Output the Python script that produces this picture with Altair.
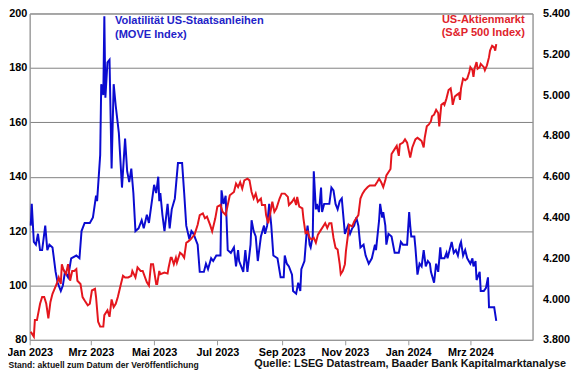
import altair as alt
import pandas as pd

# ---------------- data ----------------
move_dates = [
    "2023-01-02", "2023-01-03", "2023-01-05", "2023-01-07", "2023-01-09", "2023-01-11", "2023-01-13",
    "2023-01-16", "2023-01-18", "2023-01-20", "2023-01-23", "2023-01-26", "2023-01-28", "2023-01-31",
    "2023-02-02", "2023-02-04", "2023-02-07", "2023-02-10", "2023-02-15", "2023-02-18", "2023-02-20",
    "2023-02-23", "2023-02-28", "2023-03-03", "2023-03-06", "2023-03-07", "2023-03-10", "2023-03-11",
    "2023-03-13", "2023-03-14", "2023-03-15", "2023-03-17", "2023-03-19", "2023-03-21", "2023-03-23",
    "2023-03-25", "2023-03-28", "2023-03-31", "2023-04-03", "2023-04-05", "2023-04-07", "2023-04-09",
    "2023-04-11", "2023-04-13", "2023-04-16", "2023-04-19", "2023-04-21", "2023-04-24", "2023-04-26",
    "2023-05-01", "2023-05-03", "2023-05-05", "2023-05-06", "2023-05-07", "2023-05-09", "2023-05-11",
    "2023-05-14", "2023-05-16", "2023-05-18", "2023-05-21", "2023-05-24", "2023-05-28", "2023-05-30",
    "2023-06-01", "2023-06-04", "2023-06-06", "2023-06-08", "2023-06-12", "2023-06-14", "2023-06-18",
    "2023-06-20", "2023-06-22", "2023-06-25", "2023-06-27", "2023-06-30", "2023-07-04", "2023-07-05",
    "2023-07-07", "2023-07-09", "2023-07-11", "2023-07-14", "2023-07-17", "2023-07-19", "2023-07-21",
    "2023-07-22", "2023-07-26", "2023-07-28", "2023-07-30", "2023-08-02", "2023-08-03", "2023-08-05",
    "2023-08-07", "2023-08-09", "2023-08-12", "2023-08-15", "2023-08-16", "2023-08-18", "2023-08-20",
    "2023-08-22", "2023-08-24", "2023-08-28", "2023-08-31", "2023-09-03", "2023-09-04", "2023-09-06",
    "2023-09-08", "2023-09-11", "2023-09-12", "2023-09-15", "2023-09-17", "2023-09-19", "2023-09-20",
    "2023-09-23", "2023-09-25", "2023-09-26", "2023-09-28", "2023-09-29", "2023-10-01", "2023-10-02",
    "2023-10-04", "2023-10-05", "2023-10-07", "2023-10-09", "2023-10-10", "2023-10-12", "2023-10-15",
    "2023-10-17", "2023-10-19", "2023-10-21", "2023-10-23", "2023-10-25", "2023-10-27", "2023-10-29",
    "2023-11-01", "2023-11-02", "2023-11-04", "2023-11-06", "2023-11-08", "2023-11-10", "2023-11-12",
    "2023-11-14", "2023-11-16", "2023-11-19", "2023-11-21", "2023-11-24", "2023-11-27", "2023-11-30",
    "2023-12-01", "2023-12-04", "2023-12-05", "2023-12-07", "2023-12-08", "2023-12-10", "2023-12-11",
    "2023-12-13", "2023-12-16", "2023-12-19", "2023-12-23", "2023-12-25", "2023-12-27", "2023-12-31",
    "2024-01-02", "2024-01-03", "2024-01-04", "2024-01-07", "2024-01-08", "2024-01-10", "2024-01-12",
    "2024-01-14", "2024-01-16", "2024-01-18", "2024-01-20", "2024-01-22", "2024-01-23", "2024-01-26",
    "2024-01-28", "2024-01-30", "2024-02-01", "2024-02-02", "2024-02-05", "2024-02-07", "2024-02-08",
    "2024-02-10", "2024-02-12", "2024-02-14", "2024-02-16", "2024-02-18", "2024-02-20", "2024-02-21",
    "2024-02-23", "2024-02-25", "2024-02-27", "2024-03-01", "2024-03-03", "2024-03-04", "2024-03-06",
    "2024-03-07", "2024-03-10", "2024-03-11", "2024-03-14", "2024-03-16", "2024-03-18", "2024-03-19",
    "2024-03-22", "2024-03-24", "2024-03-26",
]
move_values = [
    122, 130, 116, 115, 119, 113, 113,
    122, 113, 115, 114, 105, 101, 98,
    100, 105, 103, 110, 111, 110, 120,
    123, 123, 125, 133, 131, 148, 174,
    170, 199, 169, 182, 183, 143, 174,
    166, 156, 136, 154, 142, 138, 143,
    134, 120, 121, 124, 121, 126, 123,
    137, 134, 140, 131, 134, 126, 120,
    130, 121, 128, 132, 145, 145, 134,
    122, 117, 120, 119, 115, 105, 105,
    108, 106, 110, 109, 111, 111, 135,
    130, 133, 113, 112, 114, 107, 113,
    109, 105, 113, 105, 115, 124, 120,
    118, 109, 118, 122, 119, 122, 130,
    122, 111, 110, 103, 103, 111, 108,
    107, 104, 98, 97, 101, 98, 106,
    109, 119, 122, 115, 114, 118, 142,
    128, 130, 127, 136, 127, 130, 130,
    130, 136, 135, 130, 128, 131, 132,
    119, 120, 122, 119, 121, 122, 125,
    122, 114, 115, 111, 108, 110, 115,
    113, 124, 130, 125, 127, 122, 115,
    119, 118, 112, 112, 116, 115, 115,
    127, 122, 118, 118, 114, 104, 108,
    107, 113, 107, 109, 108, 105, 101,
    108, 105, 114, 110, 110, 112, 110,
    113, 116, 112, 113, 111, 115, 116,
    111, 113, 110, 108, 110, 107, 109,
    102, 105, 98, 98, 99, 103, 92,
    92, 92, 87,
]

spx_dates = [
    "2023-01-02", "2023-01-03", "2023-01-05", "2023-01-06", "2023-01-08", "2023-01-11", "2023-01-13",
    "2023-01-15", "2023-01-17", "2023-01-19", "2023-01-21", "2023-01-23", "2023-01-25", "2023-01-27",
    "2023-01-29", "2023-01-31", "2023-02-01", "2023-02-03", "2023-02-05", "2023-02-07", "2023-02-09",
    "2023-02-11", "2023-02-13", "2023-02-15", "2023-02-16", "2023-02-19", "2023-02-21", "2023-02-23",
    "2023-02-26", "2023-02-28", "2023-03-02", "2023-03-05", "2023-03-06", "2023-03-08", "2023-03-10",
    "2023-03-13", "2023-03-14", "2023-03-17", "2023-03-19", "2023-03-21", "2023-03-23", "2023-03-25",
    "2023-03-27", "2023-03-30", "2023-04-01", "2023-04-03", "2023-04-06", "2023-04-09", "2023-04-10",
    "2023-04-13", "2023-04-15", "2023-04-18", "2023-04-20", "2023-04-24", "2023-04-26", "2023-04-28",
    "2023-04-30", "2023-05-03", "2023-05-04", "2023-05-06", "2023-05-07", "2023-05-11", "2023-05-14",
    "2023-05-15", "2023-05-17", "2023-05-18", "2023-05-20", "2023-05-22", "2023-05-23", "2023-05-26",
    "2023-05-28", "2023-05-30", "2023-06-01", "2023-06-03", "2023-06-05", "2023-06-09", "2023-06-12",
    "2023-06-14", "2023-06-17", "2023-06-19", "2023-06-21", "2023-06-24", "2023-06-26", "2023-06-29",
    "2023-07-01", "2023-07-04", "2023-07-06", "2023-07-09", "2023-07-11", "2023-07-13", "2023-07-17",
    "2023-07-19", "2023-07-21", "2023-07-23", "2023-07-25", "2023-07-27", "2023-07-30", "2023-08-01",
    "2023-08-03", "2023-08-05", "2023-08-07", "2023-08-09", "2023-08-12", "2023-08-13", "2023-08-16",
    "2023-08-17", "2023-08-19", "2023-08-21", "2023-08-23", "2023-08-25", "2023-08-27", "2023-08-30",
    "2023-09-01", "2023-09-04", "2023-09-07", "2023-09-08", "2023-09-11", "2023-09-13", "2023-09-15",
    "2023-09-16", "2023-09-18", "2023-09-21", "2023-09-22", "2023-09-24", "2023-09-26", "2023-09-28",
    "2023-09-30", "2023-10-02", "2023-10-04", "2023-10-06", "2023-10-08", "2023-10-11", "2023-10-13",
    "2023-10-15", "2023-10-17", "2023-10-19", "2023-10-21", "2023-10-23", "2023-10-25", "2023-10-27",
    "2023-10-28", "2023-10-30", "2023-11-01", "2023-11-02", "2023-11-04", "2023-11-05", "2023-11-08",
    "2023-11-10", "2023-11-12", "2023-11-14", "2023-11-16", "2023-11-18", "2023-11-20", "2023-11-23",
    "2023-11-25", "2023-11-27", "2023-11-30", "2023-12-02", "2023-12-04", "2023-12-06", "2023-12-08",
    "2023-12-10", "2023-12-11", "2023-12-13", "2023-12-15", "2023-12-16", "2023-12-19", "2023-12-21",
    "2023-12-23", "2023-12-24", "2023-12-27", "2023-12-29", "2023-12-31", "2024-01-02", "2024-01-03",
    "2024-01-05", "2024-01-08", "2024-01-10", "2024-01-12", "2024-01-14", "2024-01-16", "2024-01-17",
    "2024-01-19", "2024-01-21", "2024-01-23", "2024-01-24", "2024-01-26", "2024-01-28", "2024-01-30",
    "2024-01-31", "2024-02-02", "2024-02-04", "2024-02-05", "2024-02-07", "2024-02-09", "2024-02-11",
    "2024-02-12", "2024-02-13", "2024-02-15", "2024-02-17", "2024-02-19", "2024-02-20", "2024-02-21",
    "2024-02-23", "2024-02-25", "2024-02-27", "2024-02-29", "2024-03-01", "2024-03-03", "2024-03-04",
    "2024-03-05", "2024-03-07", "2024-03-08", "2024-03-10", "2024-03-11", "2024-03-14", "2024-03-15",
    "2024-03-17", "2024-03-19", "2024-03-20", "2024-03-22", "2024-03-24", "2024-03-25", "2024-03-26",
]
spx_values = [
    3840, 3832, 3816, 3897, 3897, 3977, 4010,
    4010, 3977, 3905, 3986, 4026, 4050, 4074,
    4106, 4074, 4171, 4138, 4122, 4171, 4090,
    4138, 4138, 4147, 4090, 4074, 4010, 3993,
    3969, 3977, 4042, 4050, 4010, 3889, 3865,
    3865, 3921, 3945, 3913, 3998, 3961, 3977,
    4010, 4074, 4114, 4106, 4106, 4114, 4138,
    4106, 4155, 4138, 4138, 4082, 4066, 4171,
    4171, 4074, 4074, 4138, 4122, 4130, 4125,
    4155, 4203, 4203, 4171, 4203, 4179, 4227,
    4219, 4203, 4276, 4283, 4292, 4316, 4364,
    4412, 4420, 4396, 4404, 4364, 4332, 4396,
    4453, 4461, 4428, 4412, 4461, 4509, 4525,
    4566, 4549, 4573, 4541, 4582, 4590, 4582,
    4525, 4493, 4517, 4477, 4493, 4461, 4461,
    4412, 4372, 4420, 4477, 4428, 4445, 4493,
    4517, 4517, 4501, 4461, 4477, 4493, 4461,
    4501, 4453, 4445, 4396, 4324, 4332, 4300,
    4292, 4300, 4276, 4316, 4332, 4356, 4372,
    4348, 4372, 4372, 4300, 4251, 4243, 4171,
    4122, 4138, 4171, 4235, 4316, 4364, 4356,
    4380, 4396, 4412, 4493, 4517, 4533, 4549,
    4557, 4557, 4557, 4573, 4590, 4573, 4549,
    4582, 4606, 4622, 4638, 4711, 4735, 4751,
    4702, 4759, 4767, 4783, 4767, 4718, 4694,
    4743, 4783, 4791, 4783, 4775, 4743, 4791,
    4847, 4856, 4872, 4896, 4904, 4928, 4912,
    4847, 4952, 4960, 4952, 4984, 5025, 5033,
    5001, 4952, 4993, 5001, 5009, 4977, 5033,
    5081, 5073, 5081, 5113, 5137, 5122, 5089,
    5129, 5162, 5129, 5137, 5153, 5137, 5122,
    5146, 5186, 5218, 5242, 5234, 5218, 5250,
]

move_ticks = [80, 100, 120, 140, 160, 180, 200]
spx_ticks = [3800, 4000, 4200, 4400, 4600, 4800, 5000, 5200, 5400]
x_tick_months = [(2023, 1), (2023, 3), (2023, 5), (2023, 7), (2023, 9), (2023, 11), (2024, 1), (2024, 3)]
month_names = ["Jan", "Feb", "Mrz", "Apr", "Mai", "Jun", "Jul", "Aug", "Sep", "Okt", "Nov", "Dez"]

move_label = ["Volatilität US-Staatsanleihen", "(MOVE Index)"]
spx_label = ["US-Aktienmarkt", "(S&P 500 Index)"]
note_left = "Stand: aktuell zum Datum der Veröffentlichung"
note_right = "Quelle: LSEG Datastream, Baader Bank Kapitalmarktanalyse"

# ---------------- chart ----------------
FONT = "Liberation Sans"
BLUE = "#0B0BD0"
RED = "#E4161D"
BLUE_TXT = "#2222C8"
RED_TXT = "#E0232B"
GRID = "#808080"
AXIS = "#9A9A9A"

move_df = pd.DataFrame({"date": move_dates, "move": move_values})
spx_df = pd.DataFrame({"date": spx_dates, "spx": spx_values})

x_values = [alt.DateTime(year=y, month=m, date=1, utc=True) for y, m in x_tick_months]
month_arr = "[" + ",".join("'%s'" % m for m in month_names) + "]"
x_label_expr = month_arr + "[utcmonth(datum.value)] + ' ' + utcyear(datum.value)"

x_enc = alt.X(
    "date:T",
    scale=alt.Scale(
        type="utc",
        domain=[alt.DateTime(year=2023, month=1, date=1, utc=True),
                alt.DateTime(year=2024, month=4, date=30, utc=True)],
    ),
    axis=alt.Axis(
        values=x_values, labelExpr=x_label_expr, title=None, grid=False,
        domainColor=AXIS, tickColor=AXIS, tickSize=5, labelFlush=False,
        labelFont=FONT, labelFontWeight="bold", labelFontSize=11, labelColor="black",
        labelPadding=2, labelOverlap=False,
    ),
)

move_line = alt.Chart(move_df).mark_line(color=BLUE, strokeWidth=2).encode(
    x=x_enc,
    y=alt.Y(
        "move:Q",
        scale=alt.Scale(domain=[80, 200], nice=False, zero=False),
        axis=alt.Axis(
            values=move_ticks, title=None, grid=True, gridColor=GRID, gridWidth=1,
            ticks=False, tickSize=0, domainColor=AXIS, orient="left",
            labelFont=FONT, labelFontWeight="bold", labelFontSize=11, labelColor="black",
            labelPadding=3,
        ),
    ),
)

spx_line = alt.Chart(spx_df).mark_line(color=RED, strokeWidth=2).encode(
    x=x_enc,
    y=alt.Y(
        "spx:Q",
        scale=alt.Scale(domain=[3800, 5400], nice=False, zero=False),
        axis=alt.Axis(
            values=spx_ticks, title=None, grid=False, ticks=False, tickSize=0, domainColor=AXIS,
            orient="right", labelExpr="replace(format(datum.value, ','), ',', '.')",
            labelFont=FONT, labelFontWeight="bold", labelFontSize=11, labelColor="black",
            labelPadding=10,
        ),
    ),
)

one = alt.Data(values=[{"k": 1}])


def label(txt, x, y, color, size, align="left"):
    return alt.Chart(one).mark_text(
        text=txt, font=FONT, fontWeight="bold", fontSize=size, color=color,
        align=align, baseline="middle",
    ).encode(x=alt.value(x), y=alt.value(y))


texts = [
    label(move_label[0], 86.5, 8, BLUE_TXT, 11.2),
    label(move_label[1], 86.5, 21.5, BLUE_TXT, 11.2),
    label(spx_label[0], 460, 6.5, RED_TXT, 11.2, "center"),
    label(spx_label[1], 460, 20, RED_TXT, 11.2, "center"),
    label(note_left, -21.5, 357, "#111111", 8.7),
    label(note_right, 544, 356, "#111111", 11, "right"),
]

chart = alt.layer(move_line, spx_line, *texts).resolve_scale(y="independent").properties(
    width=510, height=331,
    padding={"left": 22, "top": 3, "right": 40, "bottom": 30},
    autosize=alt.AutoSizeParams(type="none"),
    background="white",
).configure_view(stroke=AXIS, strokeWidth=1)

chart.save("out.html", embed_options={"renderer": "svg", "actions": False})
